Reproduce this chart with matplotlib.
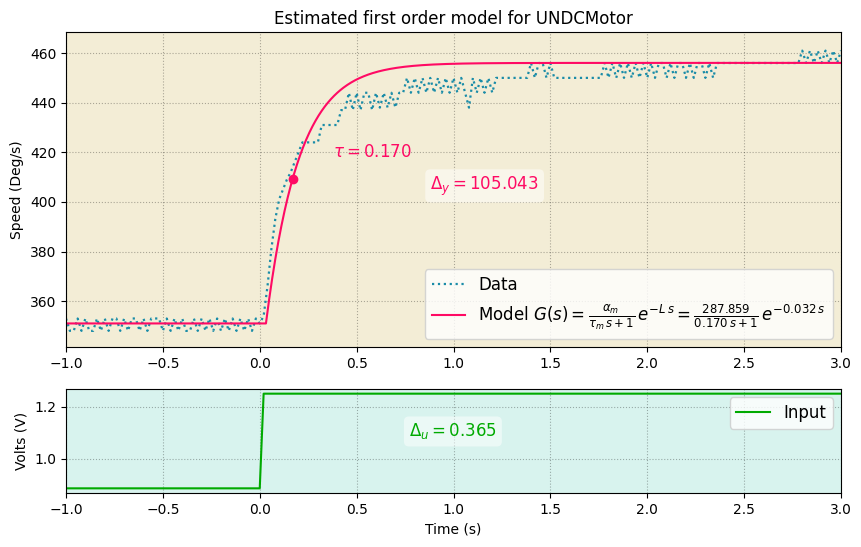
import numpy as np
import matplotlib
matplotlib.use("Agg")
import matplotlib.pyplot as plt

# measured speed data, sampled every 0.02 s from -1.0 s to 3.0 s
data_t0 = -1.0
data_dt = 0.02
data_speed = [
    # -1.00 .. -0.02 (50 samples)
    353, 348, 348, 353, 348, 353, 348, 348, 353, 348,
    353, 348, 353, 353, 348, 353, 348, 353, 353, 348,
    353, 348, 353, 353, 353, 348, 353, 348, 353, 348,
    353, 348, 348, 353, 348, 353, 348, 353, 348, 353,
    348, 353, 348, 353, 348, 353, 348, 353, 348, 353,
    # 0.00 .. 0.98
    351, 354, 366, 381, 393, 401, 405, 409, 412, 416,
    420, 424, 424, 424, 424, 424, 431, 431, 431, 431,
    431, 437, 437, 444, 437, 444, 437, 444, 444, 437,
    444, 438, 444, 438, 444, 438, 444, 444, 450, 444,
    450, 444, 450, 444, 450, 444, 450, 444, 450, 444,
    # 1.00 .. 1.98
    450, 444, 450, 444, 438, 450, 444, 450, 444, 450,
    444, 450, 450, 450, 450, 450, 450, 450, 450, 450,
    456, 450, 456, 456, 450, 456, 450, 450, 450, 450,
    450, 450, 450, 450, 450, 450, 450, 450, 450, 456,
    450, 456, 450, 456, 450, 456, 450, 456, 450, 456,
    # 2.00 .. 3.00
    450, 456, 450, 456, 456, 450, 456, 450, 456, 456,
    450, 456, 450, 456, 456, 450, 456, 450, 456, 456,
    456, 456, 456, 456, 456, 456, 456, 456, 456, 456,
    456, 456, 456, 456, 456, 456, 456, 456, 456, 456,
    461, 456, 461, 456, 461, 456, 461, 456, 461, 456,
    461,
]
data_time = data_t0 + data_dt * np.arange(len(data_speed))

# model parameters
y0 = 351.0
delta_y = 105.043
delta_u = 0.365
tau = 0.170
L = 0.032
u0 = 0.885
u_step_time = 0.02

t = np.linspace(-1, 3, 1001)
model = y0 + delta_y * np.where(t > L, 1 - np.exp(-(t - L) / tau), 0.0)
model_tau = y0 + delta_y * (1 - np.exp(-(tau - L) / tau))
inp = np.where(t >= u_step_time, u0 + delta_u, u0)
inp_t = [-1.0, 0.0, u_step_time, 3.0]
inp_v = [u0, u0, u0 + delta_u, u0 + delta_u]

fig = plt.figure(figsize=(8.61, 5.47), dpi=100)
ax1 = fig.add_axes([66/861, 1-347/547, 775/861, 315/547])
ax2 = fig.add_axes([66/861, 1-493/547, 775/861, 104/547])

red = '#ff0a64'
blue = '#1a8ca8'
green = '#00aa00'

ax1.set_facecolor('#f3edd6')
ax1.plot(data_time, data_speed, ':', color=blue, lw=1.6, label='Data')
ax1.plot(t, model, '-', color=red, lw=1.5,
         label=r'Model $G(s) = \frac{\alpha_m}{\tau_m\, s + 1}\, e^{-L\, s} = \frac{287.859}{0.170\, s + 1}\, e^{-0.032\, s}$')
ax1.plot([tau], [model_tau], 'o', color=red, ms=6)
ax1.text(0.38, 418, r'$\tau = 0.170$', color=red, fontsize=12)
ax1.text(0.88, 405, r'$\Delta_y = 105.043$', color=red, fontsize=12,
         bbox=dict(boxstyle='round', fc='white', ec='none', alpha=0.5))
ax1.set_xlim(-1, 3)
ax1.set_ylim(341.5, 468.5)
ax1.set_ylabel('Speed (Deg/s)')
ax1.set_title('Estimated first order model for UNDCMotor')
ax1.grid(True, color='k', ls=':', lw=0.8, alpha=0.3)
ax1.legend(loc='lower right', fontsize=12)

ax2.set_facecolor('#d8f3ee')
ax2.plot(inp_t, inp_v, '-', color=green, lw=1.5, label='Input')
ax2.text(0.77, 1.085, r'$\Delta_u = 0.365$', color=green, fontsize=12,
         bbox=dict(boxstyle='round', fc='white', ec='none', alpha=0.5))
ax2.set_xlim(-1, 3)
ax2.set_ylim(0.867, 1.268)
ax2.set_yticks([1.0, 1.2])
ax2.set_ylabel('Volts (V)')
ax2.set_xlabel('Time (s)')
ax2.grid(True, color='k', ls=':', lw=0.8, alpha=0.3)
ax2.legend(loc='upper right', fontsize=12)

fig.savefig('out.png', dpi=100)
